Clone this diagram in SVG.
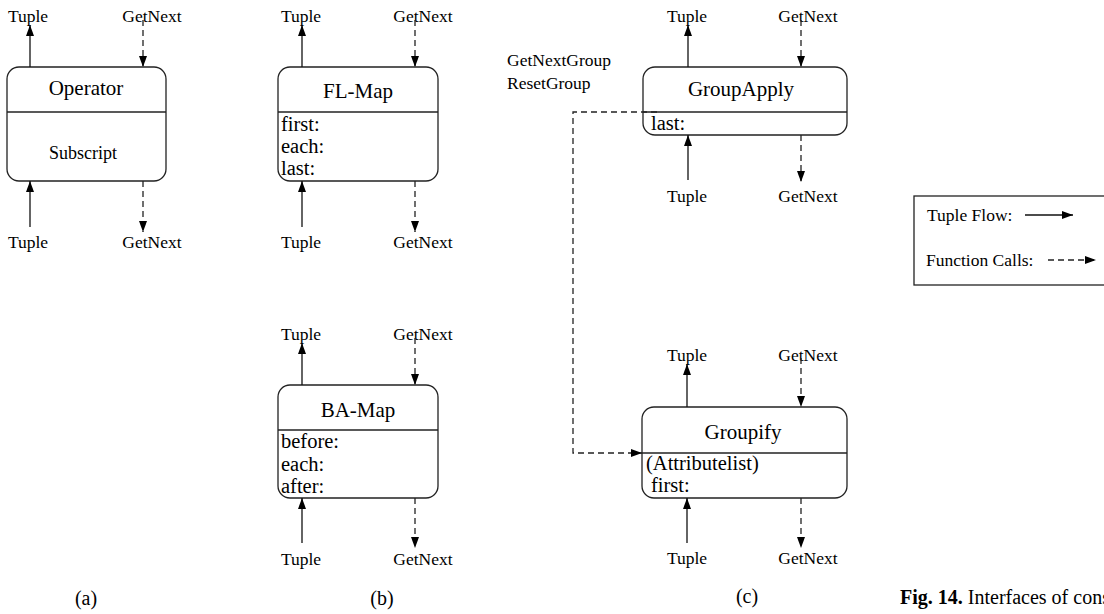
<svg xmlns="http://www.w3.org/2000/svg" width="1104" height="614" viewBox="0 0 1104 614">
  <style>
    text { font-family: "Liberation Serif", "Times New Roman", serif; fill: #000; }
    .lbl { font-size: 17.5px; text-anchor: middle; }
    .title { font-size: 21px; text-anchor: middle; }
    .body { font-size: 20.5px; }
    .sub { font-size: 18px; text-anchor: middle; }
    .cap { font-size: 20px; text-anchor: middle; }
    .box { fill: #fff; stroke: #222; stroke-width: 1.3; }
    .div { stroke: #222; stroke-width: 1.3; }
    .flow { stroke: #111; stroke-width: 1.3; fill: none; marker-end: url(#head); }
    .call { stroke: #222; stroke-width: 1.3; fill: none; stroke-dasharray: 6 4; marker-end: url(#head); }
  </style>
  <defs>
    <marker id="head" markerUnits="userSpaceOnUse" markerWidth="12" markerHeight="8" refX="11" refY="4" orient="auto">
      <path d="M0,0 L11,4 L0,8 z" fill="#000"/>
    </marker>
  </defs>
  <rect width="1104" height="614" fill="#fff"/>

  <!-- (a) generic operator -->
  <g id="operator">
    <rect class="box" x="7" y="67" width="159" height="114" rx="12"/>
    <line class="div" x1="7" y1="112" x2="166" y2="112"/>
    <text class="title" x="86" y="95">Operator</text>
    <text class="sub" x="83" y="159">Subscript</text>
    <text class="lbl" x="28" y="22">Tuple</text>
    <text class="lbl" x="152" y="22">GetNext</text>
    <text class="lbl" x="28" y="248">Tuple</text>
    <text class="lbl" x="152" y="248">GetNext</text>
  </g>

  <!-- (b) FL-Map -->
  <g id="fl-map">
    <rect class="box" x="278" y="67" width="160" height="114" rx="12"/>
    <line class="div" x1="278" y1="112" x2="438" y2="112"/>
    <text class="title" x="358" y="98">FL-Map</text>
    <text class="body" x="281" y="131">first:</text>
    <text class="body" x="281" y="153">each:</text>
    <text class="body" x="281" y="175">last:</text>
    <text class="lbl" x="301" y="22">Tuple</text>
    <text class="lbl" x="423" y="22">GetNext</text>
    <text class="lbl" x="301" y="248">Tuple</text>
    <text class="lbl" x="423" y="248">GetNext</text>
  </g>

  <!-- (b) BA-Map -->
  <g id="ba-map">
    <rect class="box" x="278" y="385" width="160" height="113" rx="12"/>
    <line class="div" x1="278" y1="430" x2="438" y2="430"/>
    <text class="title" x="358" y="417">BA-Map</text>
    <text class="body" x="281" y="448">before:</text>
    <text class="body" x="281" y="471">each:</text>
    <text class="body" x="281" y="493">after:</text>
    <text class="lbl" x="301" y="340">Tuple</text>
    <text class="lbl" x="423" y="340">GetNext</text>
    <text class="lbl" x="301" y="565">Tuple</text>
    <text class="lbl" x="423" y="565">GetNext</text>
  </g>

  <!-- (c) GroupApply -->
  <g id="groupapply">
    <rect class="box" x="643" y="67" width="204" height="68" rx="12"/>
    <line class="div" x1="643" y1="112" x2="847" y2="112"/>
    <text class="title" x="741" y="96">GroupApply</text>
    <text class="body" x="651" y="130">last:</text>
    <text class="lbl" x="687" y="22">Tuple</text>
    <text class="lbl" x="808" y="22">GetNext</text>
    <text class="lbl" x="687" y="202">Tuple</text>
    <text class="lbl" x="808" y="202">GetNext</text>
    <text x="507" y="66" style="font-size:17.5px">GetNextGroup</text>
    <text x="507" y="89" style="font-size:17.5px">ResetGroup</text>
  </g>

  <!-- (c) Groupify -->
  <g id="groupify">
    <rect class="box" x="642" y="407" width="205" height="91" rx="12"/>
    <line class="div" x1="642" y1="453" x2="847" y2="453"/>
    <text class="title" x="743" y="439">Groupify</text>
    <text class="body" x="646" y="470">(Attributelist)</text>
    <text class="body" x="651" y="492">first:</text>
    <text class="lbl" x="687" y="361">Tuple</text>
    <text class="lbl" x="808" y="361">GetNext</text>
    <text class="lbl" x="687" y="564">Tuple</text>
    <text class="lbl" x="808" y="564">GetNext</text>
  </g>

  <!-- legend -->
  <g id="legend">
    <rect x="914" y="196" width="200" height="89" fill="#fff" stroke="#222" stroke-width="1.3"/>
    <text x="927" y="221" style="font-size:17.5px">Tuple Flow:</text>
    <text x="926" y="266" style="font-size:17.5px">Function Calls:</text>
    <line class="flow" x1="1025" y1="215" x2="1073" y2="215"/>
    <line class="call" x1="1048" y1="260" x2="1096" y2="260"/>
  </g>

  <!-- connectors -->
  <g id="connectors">
    <!-- operator -->
    <line class="flow" x1="30" y1="67" x2="30" y2="25"/>
    <line class="call" x1="143" y1="20" x2="143" y2="67"/>
    <line class="flow" x1="30" y1="227" x2="30" y2="181"/>
    <line class="call" x1="143" y1="181" x2="143" y2="232"/>
    <!-- FL-Map -->
    <line class="flow" x1="302" y1="67" x2="302" y2="25"/>
    <line class="call" x1="415" y1="20" x2="415" y2="67"/>
    <line class="flow" x1="302" y1="227" x2="302" y2="181"/>
    <line class="call" x1="415" y1="181" x2="415" y2="232"/>
    <!-- BA-Map -->
    <line class="flow" x1="302" y1="385" x2="302" y2="343"/>
    <line class="call" x1="415" y1="338" x2="415" y2="385"/>
    <line class="flow" x1="302" y1="543" x2="302" y2="498"/>
    <line class="call" x1="415" y1="498" x2="415" y2="548"/>
    <!-- GroupApply -->
    <line class="flow" x1="688" y1="67" x2="688" y2="25"/>
    <line class="call" x1="801" y1="20" x2="801" y2="67"/>
    <line class="flow" x1="688" y1="180" x2="688" y2="135"/>
    <line class="call" x1="801" y1="135" x2="801" y2="182"/>
    <!-- Groupify -->
    <line class="flow" x1="687" y1="407" x2="687" y2="364"/>
    <line class="call" x1="801" y1="358" x2="801" y2="407"/>
    <line class="flow" x1="687" y1="543" x2="687" y2="498"/>
    <line class="call" x1="801" y1="498" x2="801" y2="548"/>
    <!-- GetNextGroup / ResetGroup call from GroupApply to Groupify -->
    <path class="call" d="M657,112 H573 V453 H642"/>
  </g>

  <!-- sub-figure labels and caption -->
  <text class="cap" x="86" y="605">(a)</text>
  <text class="cap" x="382" y="605">(b)</text>
  <text class="cap" x="747" y="603">(c)</text>
  <text x="900" y="604" style="font-size:20px"><tspan font-weight="bold">Fig. 14.</tspan> Interfaces of cons</text>
</svg>
